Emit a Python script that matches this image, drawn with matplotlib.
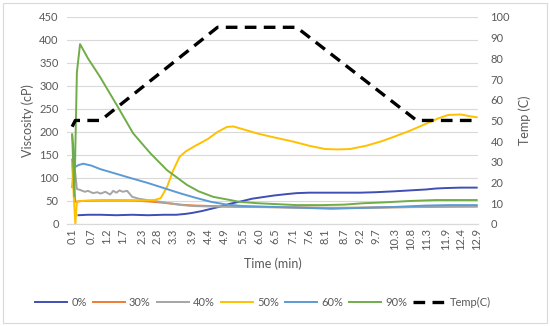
import matplotlib.pyplot as plt
from matplotlib.patches import Rectangle

plt.rcParams['font.family'] = ['Lato', 'DejaVu Sans']

# tick labels on the category axis (time, min)
tick_lab = ['0.1', '0.7', '1.2', '1.7', '2.3', '2.8', '3.3', '3.9', '4.4', '4.9', '5.5', '6.0', '6.5',
            '7.1', '7.6', '8.1', '8.7', '9.2', '9.7', '10.3', '10.8', '11.3', '11.9', '12.4', '12.9']

# viscosity series (cP)
t_0 = [0.3, 0.6, 1.0, 1.5, 2.0, 2.5, 3.0, 3.4, 3.7, 3.9, 4.2, 4.5, 4.8, 5.1, 5.5, 5.8, 6.1, 6.5, 6.9,
       7.2, 7.6, 8.1, 8.7, 9.2, 9.7, 10.3, 10.8, 11.3, 11.6, 11.9, 12.4, 12.9]
v_0 = [19, 20, 20, 19, 20, 19, 20, 20, 22, 24, 28, 33, 38, 44, 50, 55, 58, 62, 65,
       67, 68, 68, 68, 68, 69, 71, 73, 75, 77, 78, 79, 79]

t_30 = [0.1, 0.15, 0.2, 0.4, 1.0, 2.0, 2.5, 3.0, 3.5, 4.0, 5.0, 6.0, 7.0, 8.0, 9.0, 10.0, 11.0, 12.0, 12.9]
v_30 = [140, 90, 48, 50, 51, 51, 49, 46, 42, 40, 38, 37, 36, 35, 35, 36, 37, 38, 38]

t_40 = [0.1, 0.15, 0.2, 0.25, 0.35, 0.5, 0.6, 0.76, 0.9, 1.0, 1.15, 1.3, 1.4, 1.5, 1.6, 1.7, 1.84,
        2.0, 2.2, 2.47, 2.8, 3.2, 3.6, 3.9, 4.5, 5.5, 7.0, 8.5, 10.0, 11.5, 12.9]
v_40 = [80, 125, 110, 76, 74, 70, 72, 67, 69, 66, 70, 64, 72, 68, 73, 70, 72,
        59, 55, 52, 49, 45, 41, 39, 38, 37, 36, 35, 36, 37, 38]

t_50 = [0.1, 0.15, 0.2, 0.25, 0.4, 1.0, 1.7, 2.3, 2.7, 2.9, 3.1, 3.3, 3.5, 3.7, 4.0, 4.4, 4.7, 5.0,
        5.2, 5.5, 6.0, 6.5, 7.1, 7.6, 8.1, 8.5, 8.9, 9.4, 9.9, 10.3, 10.8, 11.3, 11.7, 12.0, 12.4, 12.7, 12.9]
v_50 = [130, 60, 0, 48, 50, 52, 52, 51, 52, 56, 80, 117, 146, 158, 170, 185, 200, 211,
        212, 206, 196, 188, 179, 170, 163, 162, 163, 170, 180, 190, 203, 218, 230, 237, 238, 234, 232]

t_60 = [0.1, 0.2, 0.3, 0.45, 0.7, 1.0, 1.4, 1.84, 2.5, 3.0, 3.5, 4.0, 4.5, 5.0, 5.5, 6.5, 7.5, 8.3,
        9.3, 10.3, 11.3, 12.0, 12.9]
v_60 = [193, 124, 128, 131, 127, 119, 111, 102, 89, 78, 67, 57, 48, 42, 39, 37, 35, 33,
        35, 37, 40, 41, 41]

t_90 = [0.1, 0.17, 0.25, 0.35, 0.6, 0.98, 1.55, 2.03, 2.57, 3.1, 3.73, 4.1, 4.56, 5.1, 5.4, 6.0, 6.6,
        7.2, 8.0, 8.7, 9.3, 10.0, 10.8, 11.6, 12.2, 12.9]
v_90 = [195, 60, 330, 391, 360, 320, 254, 197, 154, 117, 85, 71, 59, 52, 48, 45, 43,
        41, 41, 42, 45, 47, 50, 52, 52, 52]

# temperature (C), right axis
t_temp = [0.1, 0.2, 1.0, 4.7, 7.2, 11.0, 12.9]
v_temp = [47, 50, 50, 95, 95, 50, 50]

series = [('0%', t_0, v_0, '#3F4FB3'), ('30%', t_30, v_30, '#ED7D31'), ('40%', t_40, v_40, '#A5A5A5'),
          ('50%', t_50, v_50, '#FFC000'), ('60%', t_60, v_60, '#5B9BD5'), ('90%', t_90, v_90, '#70AD47')]

fig = plt.figure(figsize=(5.5, 3.26), dpi=100)
ax = fig.add_axes([0.122, 0.313, 0.747, 0.635])
ax2 = ax.twinx()

handles = []
for name, t, v, c in series:
    h, = ax.plot(t, v, color=c, lw=1.4, label=name)
    handles.append(h)
h, = ax2.plot(t_temp, v_temp, color='black', lw=2.4, dashes=(3.5, 2.2), label='Temp(C)')
handles.append(h)

ax.set_xlim(-0.06, 12.94)
ax.set_ylim(0, 450)
ax.set_yticks(range(0, 451, 50))
ax2.set_ylim(0, 100)
ax2.set_yticks(range(0, 101, 10))
ax.set_xticks([float(s) for s in tick_lab])
ax.set_xticklabels(tick_lab, rotation=90)

ax.grid(axis='y', color='#D9D9D9', lw=0.8)
ax.set_axisbelow(True)
for a in (ax, ax2):
    for s in ('top', 'left', 'right'):
        a.spines[s].set_visible(False)
    a.spines['bottom'].set_color('#D9D9D9')
    a.tick_params(length=0, labelsize=8, labelcolor='#595959')
ax.tick_params(axis='y', pad=6)
ax.tick_params(axis='x', pad=3)
ax2.tick_params(axis='y', pad=9)

ax.set_ylabel('Viscosity (cP)', fontsize=9, color='#595959')
ax2.set_ylabel('Temp (C)', fontsize=9, color='#595959', labelpad=6)
ax.set_xlabel('Time (min)', fontsize=9, color='#595959', labelpad=5)

fig.legend(handles=handles, loc='center', bbox_to_anchor=(0.478, 0.073), ncol=7, frameon=False,
           fontsize=8, handlelength=2.9, columnspacing=0.55, handletextpad=0.35, labelcolor='#595959')

fig.patches.append(Rectangle((0.005, 0.008), 0.99, 0.984, transform=fig.transFigure,
                             fill=False, edgecolor='#D9D9D9', lw=0.8))

fig.savefig('out.png', dpi=100)
